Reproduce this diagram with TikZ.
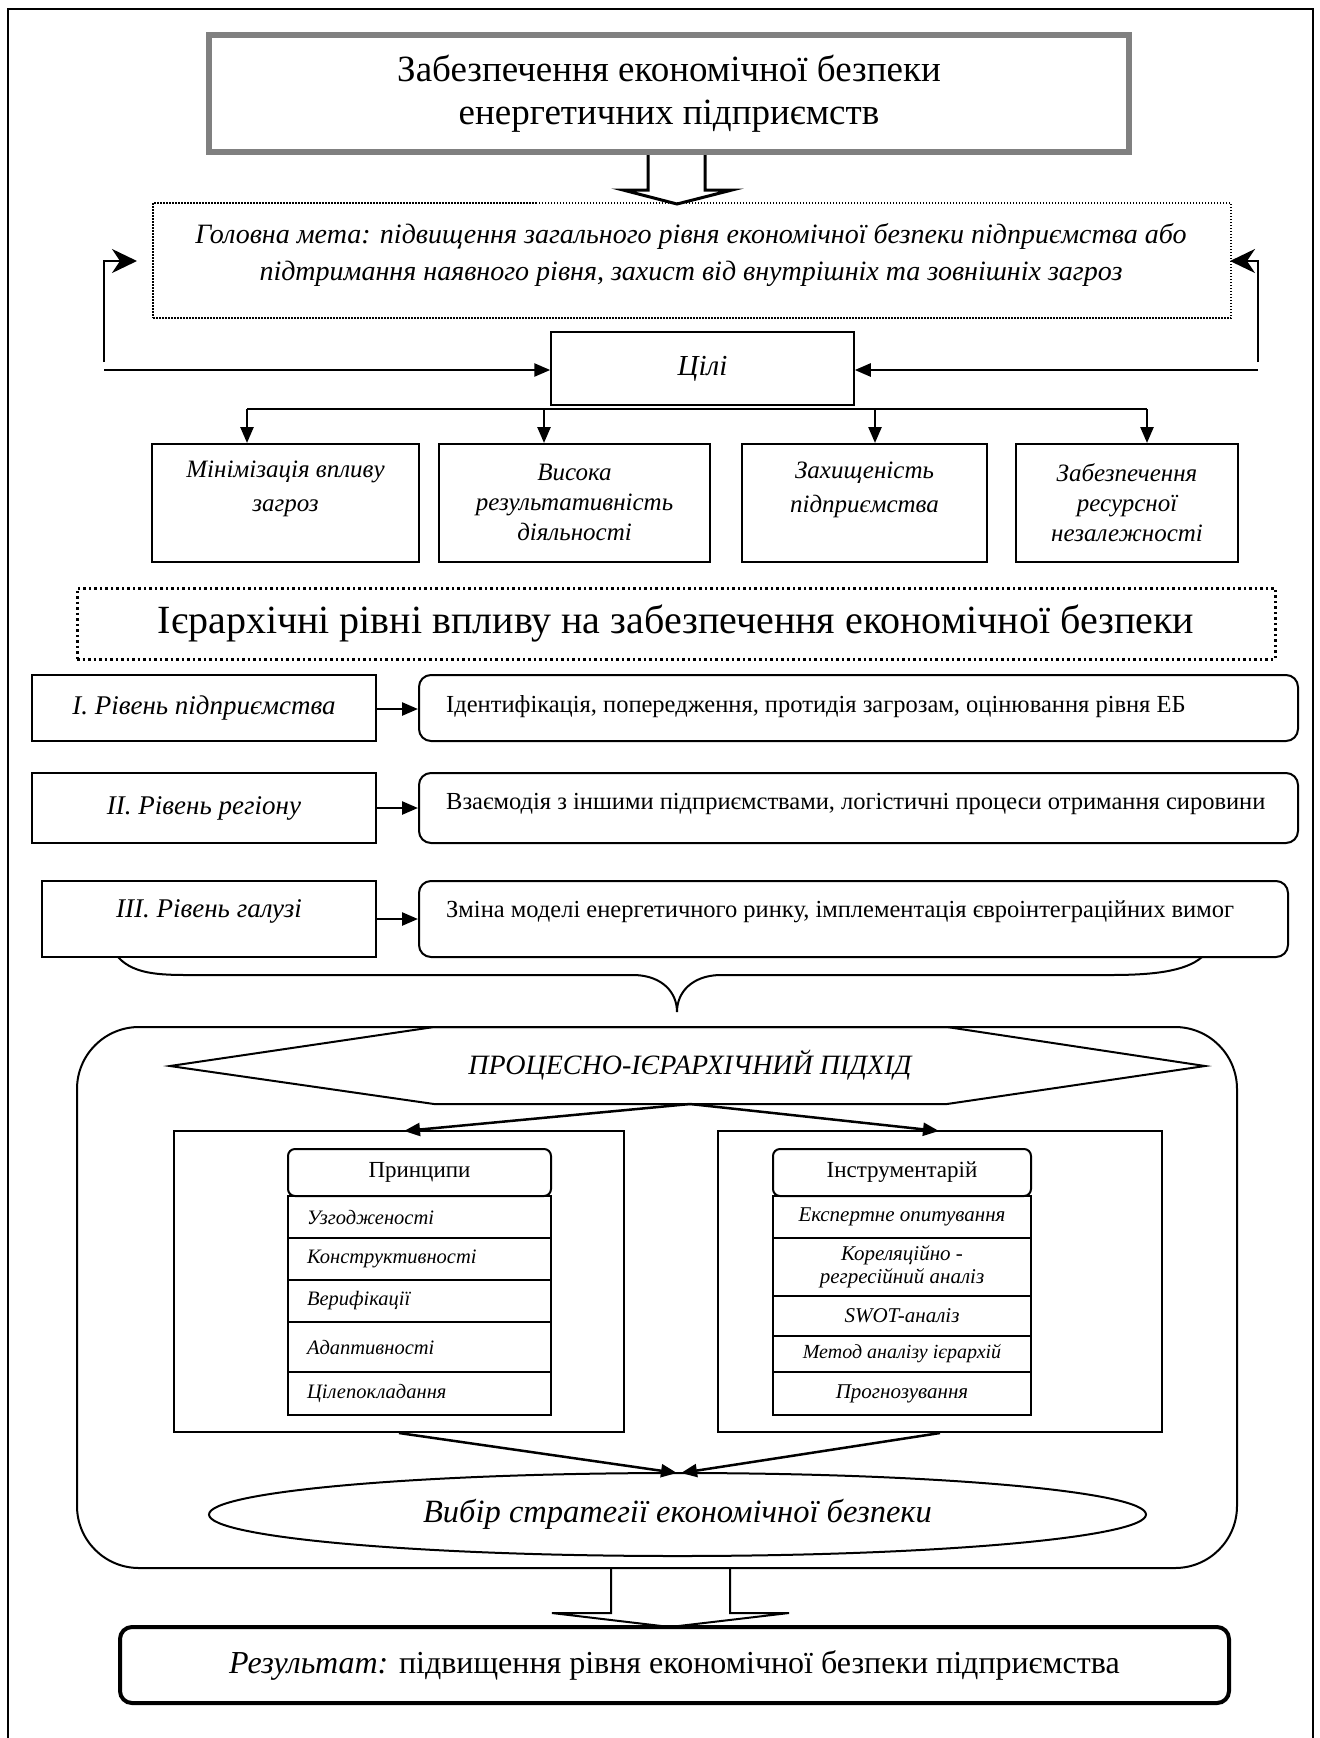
\documentclass[tikz,border=0pt]{standalone}
\usepackage{fontspec}
\setmainfont{Liberation Serif}
\usetikzlibrary{arrows.meta,shapes.geometric}
\newcommand\myfs[2]{\fontsize{#1pt}{#2pt}\selectfont}
\definecolor{titlegray}{HTML}{808080}
\begin{document}
\begin{tikzpicture}[x=1pt,y=-1pt,
  box/.style={draw, line width=2pt, inner sep=0pt},
  rbox/.style={draw, line width=2pt, inner sep=0pt, rounded corners=12pt},
  arr/.style={line width=2.5pt, -{Triangle[length=16pt,width=13pt]}},
  fbarr/.style={line width=2.5pt, line join=miter, -{Stealth[length=25pt,width=24pt,inset=8pt]}},
  gtext/.style={font=\itshape\myfs{25}{34}, align=center},
  lvl/.style={box, font=\itshape\myfs{27}{32}},
  rtext/.style={font=\myfs{24.5}{30}, anchor=west, inner sep=0pt},
  prow/.style={box, minimum width=263, font=\itshape\myfs{20.5}{26}},
  irow/.style={box, minimum width=258, font=\itshape\myfs{21}{23}, align=center},
]
\useasboundingbox (0,0) rectangle (1320,1738);
% outer frame
\draw[line width=2pt] (8,1745) -- (8,9) -- (1313,9) -- (1313,1745);

% title
\node[draw=titlegray, line width=6pt, minimum width=920, minimum height=117, inner sep=0pt,
  align=center, font=\myfs{37}{43}] (title) at (669,93.5)
  {Забезпечення економічної безпеки\\енергетичних підприємств};
\draw[line width=3pt, line join=miter] (648,155) -- (648,190) -- (623,190) -- (677,204) -- (732,190) -- (705,190) -- (705,155);

% main goal
\node[draw, line width=1.2pt, dash pattern=on 1.5pt off 1.5pt, minimum width=1078, minimum height=115, inner sep=0pt] (goal) at (692,260.5) {};
\node[font=\itshape\myfs{28}{37}, align=center] (goaltext) at (691,255)
  {Головна мета: підвищення загального рівня економічної безпеки підприємства або\\підтримання наявного рівня, захист від внутрішніх та зовнішніх загроз};

% goals box
\node[box, line width=1.5pt, minimum width=303, minimum height=73, font=\itshape\myfs{29}{34}] (goals) at (702.5,368.5) {Цілі};

% feedback loops
\coordinate (fbL1) at (104,362); \coordinate (fbL2) at (104,261); \coordinate (fbL3) at (137,261);
\coordinate (fbR1) at (1258,362); \coordinate (fbR2) at (1258,261); \coordinate (fbR3) at (1230,261);
\draw[fbarr] (fbL1) -- (fbL2) -- (fbL3);
\draw[fbarr] (fbR1) -- (fbR2) -- (fbR3);
\coordinate (hl) at (104,370); \coordinate (hr) at (1258,370);
\draw[arr] (hl) -- (hl -| goals.west);
\draw[arr] (hr) -- (hr -| goals.east);

% four goals
\node[box, minimum width=267, minimum height=118] (g1) at (285.5,503) {};
\node[box, minimum width=271, minimum height=118] (g2) at (574.5,503) {};
\node[box, minimum width=245, minimum height=118] (g3) at (864.5,503) {};
\node[box, minimum width=222, minimum height=118] (g4) at (1127,503) {};
\node[gtext] (g1t) at (285.5,489) {Мінімізація впливу\\загроз};
\node[gtext, font=\itshape\myfs{25}{30}] (g2t) at (574.5,502) {Висока\\результативність\\діяльності};
\node[gtext] (g3t) at (864.5,490) {Захищеність\\підприємства};
\node[gtext, font=\itshape\myfs{25}{30}] (g4t) at (1127,503) {Забезпечення\\ресурсної\\незалежності};
\coordinate (d1) at (247,409); \coordinate (d2) at (544,409); \coordinate (d3) at (875,409); \coordinate (d4) at (1147,409);
\draw[line width=2pt] (d1) -- (d4);
\draw[arr] (d1) -- (d1 |- g1.north);
\draw[arr] (d2) -- (d2 |- g2.north);
\draw[arr] (d3) -- (d3 |- g3.north);
\draw[arr] (d4) -- (d4 |- g4.north);

% heading
\node[draw, line width=3pt, dash pattern=on 2.5pt off 3pt, minimum width=1198, minimum height=71, inner sep=0pt,
  font=\myfs{40}{46}] (head) at (676,623.5) {Ієрархічні рівні впливу на забезпечення економічної безпеки};

% levels
\node[lvl, minimum width=344, minimum height=66] (L1) at (204,708) {I. Рівень підприємства};
\node[rbox, minimum width=879, minimum height=66] (R1) at (858.5,708) {};
\node[rtext] (R1t) at (446,707) {Ідентифікація, попередження, протидія загрозам, оцінювання рівня ЕБ};
\node[lvl, minimum width=344, minimum height=70] (L2) at (204,808) {II. Рівень регіону};
\node[rbox, minimum width=879, minimum height=70] (R2) at (858.5,808) {};
\node[rtext] (R2t) at (446,804) {Взаємодія з іншими підприємствами, логістичні процеси отримання сировини};
\node[lvl, minimum width=334, minimum height=76, text depth=20pt] (L3) at (209,919) {III. Рівень галузі};
\node[rbox, minimum width=869, minimum height=76] (R3) at (853.5,919) {};
\node[rtext] (R3t) at (446,912) {Зміна моделі енергетичного ринку, імплементація євроінтеграційних вимог};
\coordinate (a1) at (376,709); \coordinate (a2) at (376,808); \coordinate (a3) at (376,919);
\draw[arr] (a1) -- (a1 -| R1.west);
\draw[arr] (a2) -- (a2 -| R2.west);
\draw[arr] (a3) -- (a3 -| R3.west);

% brace
\draw[line width=2pt] (118,957) .. controls (135,976) and (165,975) .. (200,975) -- (635,975)
  .. controls (662,976) and (677,992) .. (677,1012)
  .. controls (677,992) and (692,976) .. (719,975) -- (1110,975)
  .. controls (1150,975) and (1185,972) .. (1202,957);

% big process box
\node[draw, line width=2pt, rounded corners=62pt, minimum width=1160, minimum height=541, inner sep=0pt] (big) at (657,1297.5) {};
\draw[line width=2pt, line join=miter] (170,1066) -- (434,1027) -- (947,1027) -- (1205,1066) -- (947,1104) -- (434,1104) -- cycle;
\node[font=\itshape\myfs{28}{32}] (hex) at (690,1065) {ПРОЦЕСНО-ІЄРАРХІЧНИЙ ПІДХІД};
\coordinate (hexb) at (690,1104);

% panels
\node[box, minimum width=450, minimum height=301] (P) at (399,1281.5) {};
\node[box, minimum width=444, minimum height=301] (I) at (940,1281.5) {};
\coordinate (Pa) at (404,1131); \coordinate (Ia) at (939,1131);
\draw[arr] (hexb) -- (Pa);
\draw[arr] (hexb) -- (Ia);

% principles
\node[rbox, rounded corners=7pt, minimum width=263, minimum height=47, font=\myfs{23}{26}] (Ph) at (419.5,1172.5) {Принципи};
\node[prow, minimum height=42, text width=225, align=left, inner xsep=19pt] (p1) at (419.5,1217) {Узгодженості};
\node[prow, minimum height=42, text width=225, align=left, inner xsep=19pt] (p2) at (419.5,1259) {Конструктивності};
\node[prow, minimum height=42, text width=225, align=left, inner xsep=19pt] (p3) at (419.5,1301) {Верифікації};
\node[prow, minimum height=50, text width=225, align=left, inner xsep=19pt] (p4) at (419.5,1347) {Адаптивності};
\node[prow, minimum height=43, text width=225, align=left, inner xsep=19pt] (p5) at (419.5,1393.5) {Цілепокладання};

% instruments
\node[rbox, rounded corners=7pt, minimum width=258, minimum height=47, font=\myfs{23}{26}] (Ih) at (902,1172.5) {Інструментарій};
\node[irow, minimum height=42] (i1) at (902,1217) {Експертне опитування};
\node[irow, minimum height=58] (i2) at (902,1267) {Кореляційно -\\регресійний аналіз};
\node[irow, minimum height=40] (i3) at (902,1316) {SWOT-аналіз};
\node[irow, minimum height=36, font=\itshape\myfs{20}{23}] (i4) at (902,1354) {Метод аналізу ієрархій};
\node[irow, minimum height=43] (i5) at (902,1393.5) {Прогнозування};

% strategy ellipse
\node[draw, line width=2pt, ellipse, minimum width=937, minimum height=83, inner sep=0pt,
  font=\itshape\myfs{32.5}{38}] (ell) at (677.5,1514.5) {Вибір стратегії економічної безпеки};
\coordinate (ellL) at (677,1473); \coordinate (ellR) at (681,1473);
\draw[arr] (P.south) -- (ellL);
\draw[arr] (I.south) -- (ellR);

% block arrow to result
\draw[line width=2pt, line join=miter] (611,1568) -- (611,1613) -- (552,1613) -- (670,1627) -- (789,1613) -- (730,1613) -- (730,1568);

% result
\node[draw, line width=4pt, rounded corners=12pt, minimum width=1109, minimum height=76, inner sep=0pt,
  font=\myfs{32}{36}] (res) at (674.5,1665) {\textit{Результат:} підвищення рівня економічної безпеки підприємства};
\end{tikzpicture}
\end{document}
